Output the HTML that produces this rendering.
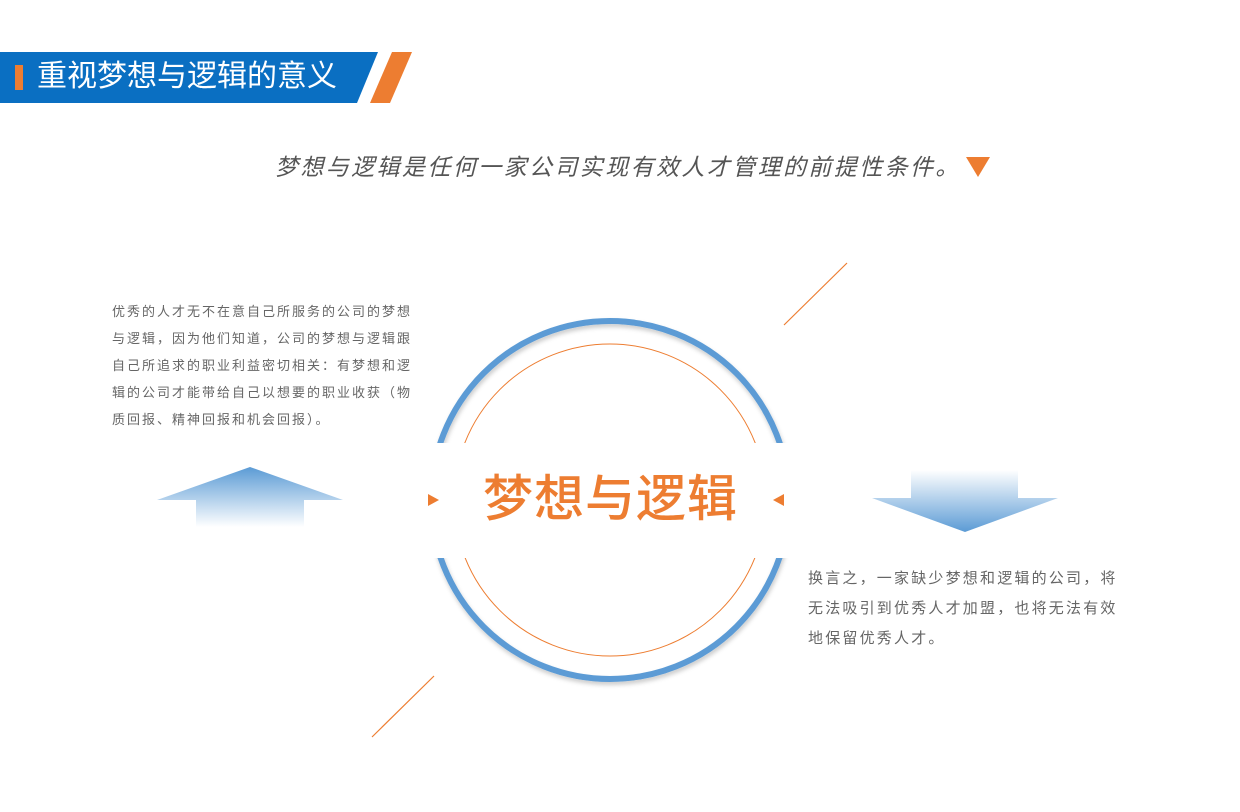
<!DOCTYPE html>
<html><head><meta charset="utf-8"><style>
body{margin:0;width:1240px;height:812px;background:#fff;position:relative;overflow:hidden;font-family:"Liberation Sans","Noto Sans CJK SC",sans-serif}
.abs{position:absolute}
.p{color:#666;white-space:nowrap}
</style></head><body>
<svg class="abs" style="left:0;top:0" width="1240" height="812">
<defs>
<linearGradient id="gu" x1="0" y1="0" x2="0" y2="1"><stop offset="0" stop-color="#5b9bd5"/><stop offset="1" stop-color="#fff"/></linearGradient>
<linearGradient id="gd" x1="0" y1="1" x2="0" y2="0"><stop offset="0" stop-color="#5b9bd5"/><stop offset="1" stop-color="#fff"/></linearGradient>
<clipPath id="cp"><rect x="0" y="0" width="1240" height="443"/><rect x="0" y="558" width="1240" height="300"/></clipPath>
<filter id="sh"><feDropShadow dx="1" dy="3" stdDeviation="2" flood-color="#000" flood-opacity="0.2"/></filter>
</defs>
<polygon points="0,52 378,52 357,103 0,103" fill="#0a6fc2"/>
<polygon points="392,52 412,52 390,103 370,103" fill="#ed7d31"/>
<rect x="15" y="65" width="8" height="25" fill="#ed7d31"/>
<polygon points="966,157 990,157 978,177" fill="#ed7d31"/>
<g clip-path="url(#cp)">
<circle cx="610" cy="500" r="179" fill="none" stroke="#5b9bd5" stroke-width="6" filter="url(#sh)"/>
<circle cx="610" cy="500" r="156" fill="none" stroke="#ed7d31" stroke-width="1"/>
</g>
<polygon points="428,494 439,500 428,506" fill="#ed7d31"/>
<polygon points="784,494 773,500 784,506" fill="#ed7d31"/>
<polygon points="157,500 250,467 343,500 304,500 304,527 196,527 196,500" fill="url(#gu)"/>
<polygon points="911,470 1018,470 1018,498 1058,498 965,532 872,498 911,498" fill="url(#gd)"/>
<line x1="847" y1="263" x2="784" y2="325" stroke="#ed7d31" stroke-width="1.2"/>
<line x1="434" y1="676" x2="372" y2="737" stroke="#ed7d31" stroke-width="1.2"/>
</svg>
<div class="abs" style="left:37px;top:57px;font-size:30px;color:#fff;line-height:40px">重视梦想与逻辑的意义</div>
<div class="abs" style="left:275px;top:152px;font-size:23px;color:#555;letter-spacing:2.4px;line-height:30px;font-style:italic">梦想与逻辑是任何一家公司实现有效人才管理的前提性条件。</div>
<div class="abs" style="left:483px;top:468px;font-size:50px;color:#ed7d31;line-height:62px;letter-spacing:1px;font-weight:500">梦想与逻辑</div>
<div class="abs p" style="left:112px;top:298px;font-size:13px;letter-spacing:2px;line-height:27px">优秀的人才无不在意自己所服务的公司的梦想<br>与逻辑，因为他们知道，公司的梦想与逻辑跟<br>自己所追求的职业利益密切相关：有梦想和逻<br>辑的公司才能带给自己以想要的职业收获（物<br>质回报、精神回报和机会回报）。</div>
<div class="abs p" style="left:808px;top:564px;font-size:15px;letter-spacing:2.2px;line-height:30px">换言之，一家缺少梦想和逻辑的公司，将<br>无法吸引到优秀人才加盟，也将无法有效<br>地保留优秀人才。</div>
</body></html>
